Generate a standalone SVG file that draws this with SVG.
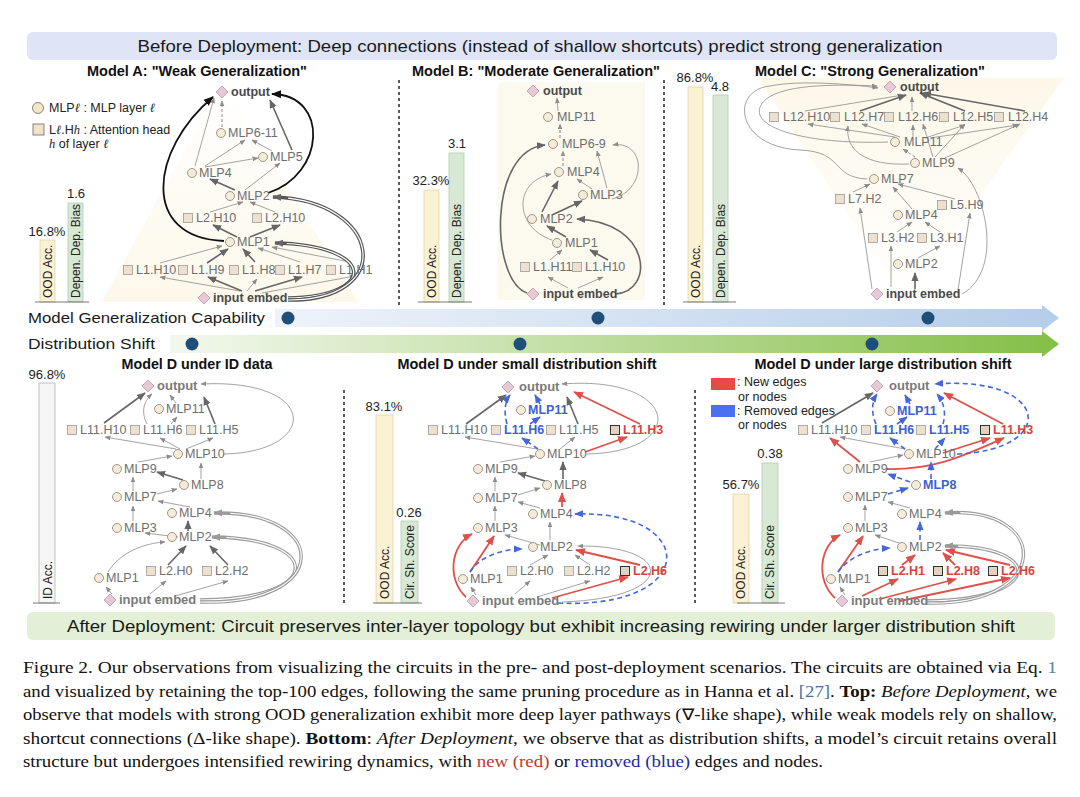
<svg xmlns="http://www.w3.org/2000/svg" width="1080" height="797" viewBox="0 0 1080 797">
<defs>
<style>
text{font-family:"Liberation Sans",Arial,sans-serif}
.t{font-size:12.5px;fill:#6e6e6e}
.tb{font-size:12.5px;font-weight:bold;fill:#4a4a4a}
.tg{font-size:13px;font-weight:bold;fill:#7a7a7a}
.tr{font-size:12.5px;font-weight:bold;fill:#d9433d}
.tbl{font-size:12.5px;font-weight:bold;fill:#3d5fd6}
.ttl{font-size:14px;font-weight:bold;fill:#111;text-anchor:middle}
.c{fill:#f4ebd9;stroke:#8a7f74;stroke-width:0.8}
.s{fill:#eee0cf;stroke:#9b9b9b;stroke-width:0.8}
.s2{fill:#e3d2bf;stroke:#333;stroke-width:1}
.d{fill:#e8c8d6;stroke:#b49aa8;stroke-width:0.8}
.e{fill:none;stroke:#8c8c8c;stroke-width:0.8;marker-end:url(#mg)}
.eb{fill:none;stroke:#666;stroke-width:1.6;marker-end:url(#mgb)}
.ed{fill:none;stroke:#8c8c8c;stroke-width:1;stroke-dasharray:3 2;marker-end:url(#mg)}
.k{fill:none;stroke:#111;stroke-width:1.8;marker-end:url(#mk)}
.r{fill:none;stroke:#e0504a;stroke-width:1.8;marker-end:url(#mr)}
.b{fill:none;stroke:#4466dd;stroke-width:1.6;stroke-dasharray:5 3.5;marker-end:url(#mb)}
.dbo{fill:none;stroke:#9a9a9a;stroke-width:3.4;marker-end:url(#mgl)}
.dbk{fill:none;stroke:#555;stroke-width:3.6;marker-end:url(#mgb)}
.dbi{fill:none;stroke:#fff;stroke-width:1.2;stroke-dasharray:93 100}
.bl{font-size:13px;fill:#222;text-anchor:middle}
.bv{font-size:12px;fill:#222}
.oa{fill:#fbf1d4;stroke:#e3d4a6;stroke-width:0.8}
.gb{fill:#d7e8d4;stroke:#b3cab0;stroke-width:0.8}
.ia{fill:#f6f6f6;stroke:#b5b5b5;stroke-width:0.8}
.sep{stroke:#222;stroke-width:1.5;stroke-dasharray:3 3}
.base{stroke:#555;stroke-width:0.8}
.cap{font-family:"Liberation Serif","Times New Roman",serif;font-size:16px;fill:#111}
.ban{font-size:17px;fill:#1a1a1a;text-anchor:middle}
.mid{font-size:15px;fill:#1a1a1a}
.dot1{fill:#1f4e79}
.lg{font-size:12.5px;fill:#222}
</style>
<marker id="mg" viewBox="0 0 10 10" refX="9" refY="5" markerWidth="6" markerHeight="6" markerUnits="userSpaceOnUse" orient="auto"><path d="M0,1 L10,5 L0,9 z" fill="#8c8c8c"/></marker>
<marker id="mgl" viewBox="0 0 10 10" refX="9" refY="5" markerWidth="9" markerHeight="9" markerUnits="userSpaceOnUse" orient="auto"><path d="M0,1 L10,5 L0,9 z" fill="#9a9a9a"/></marker>
<marker id="mgb" viewBox="0 0 10 10" refX="9" refY="5" markerWidth="9" markerHeight="9" markerUnits="userSpaceOnUse" orient="auto"><path d="M0,1 L10,5 L0,9 z" fill="#666"/></marker>
<marker id="mk" viewBox="0 0 10 10" refX="9" refY="5" markerWidth="10" markerHeight="10" markerUnits="userSpaceOnUse" orient="auto"><path d="M0,1 L10,5 L0,9 z" fill="#111"/></marker>
<marker id="mr" viewBox="0 0 10 10" refX="9" refY="5" markerWidth="10" markerHeight="10" markerUnits="userSpaceOnUse" orient="auto"><path d="M0,1 L10,5 L0,9 z" fill="#e0504a"/></marker>
<marker id="mb" viewBox="0 0 10 10" refX="9" refY="5" markerWidth="9" markerHeight="9" markerUnits="userSpaceOnUse" orient="auto"><path d="M0,1 L10,5 L0,9 z" fill="#4466dd"/></marker>
<linearGradient id="gA" x1="0" y1="0" x2="0" y2="1"><stop offset="0" stop-color="#fbf3dc" stop-opacity="0"/><stop offset="1" stop-color="#fbf3dc" stop-opacity="0.6"/></linearGradient>
<linearGradient id="gC" x1="0" y1="0" x2="0" y2="1"><stop offset="0" stop-color="#fbf3dc" stop-opacity="0.65"/><stop offset="1" stop-color="#fbf3dc" stop-opacity="0"/></linearGradient>
<linearGradient id="gBlue" x1="0" y1="0" x2="1" y2="0"><stop offset="0" stop-color="#eef3fa"/><stop offset="1" stop-color="#b4cde9"/></linearGradient>
<linearGradient id="gGreen" x1="0" y1="0" x2="1" y2="0"><stop offset="0" stop-color="#f3f8ee"/><stop offset="1" stop-color="#84bf47"/></linearGradient>
</defs>
<rect width="1080" height="797" fill="#fff"/>

<!-- banners -->
<g id="banner-top"><rect x="27" y="32" width="1030" height="28" rx="6" fill="#dfe5f6"/><text class="ban" x="540" y="52" textLength="805" lengthAdjust="spacingAndGlyphs">Before Deployment: Deep connections (instead of shallow shortcuts) predict strong generalization</text></g>
<g id="banner-bottom"><rect x="27" y="612" width="1028" height="28" rx="6" fill="#e3efd6"/><text class="ban" x="541" y="632" textLength="948" lengthAdjust="spacingAndGlyphs">After Deployment: Circuit preserves inter-layer topology but exhibit increasing rewiring under larger distribution shift</text></g>

<!-- backgrounds -->
<polygon points="222,80 358,302 102,302" fill="url(#gA)"/>
<rect x="498" y="82" width="147" height="218" fill="#fcf9ef"/>
<polygon points="758,78 1064,78 905,302" fill="url(#gC)"/>

<!-- separators -->
<g id="separators">
<line class="sep" x1="399" y1="80" x2="399" y2="305"/>
<line class="sep" x1="664" y1="80" x2="664" y2="305"/>
<line class="sep" x1="344" y1="390" x2="344" y2="605"/>
<line class="sep" x1="695" y1="390" x2="695" y2="605"/>
</g>

<!-- titles -->
<g id="titles">
<text class="ttl" x="197" y="76" textLength="220" lengthAdjust="spacingAndGlyphs">Model A: "Weak Generalization"</text>
<text class="ttl" x="536" y="76" textLength="248" lengthAdjust="spacingAndGlyphs">Model B: "Moderate Generalization"</text>
<text class="ttl" x="870" y="76" textLength="230" lengthAdjust="spacingAndGlyphs">Model C: "Strong Generalization"</text>
<text class="ttl" x="197" y="369" textLength="151" lengthAdjust="spacingAndGlyphs">Model D under ID data</text>
<text class="ttl" x="527" y="369" textLength="259" lengthAdjust="spacingAndGlyphs">Model D under small distribution shift</text>
<text class="ttl" x="883" y="369" textLength="257" lengthAdjust="spacingAndGlyphs">Model D under large distribution shift</text>
</g>

<!-- legend A -->
<g id="legend-a">
<circle cx="38" cy="108" r="5.5" fill="#f5e6c8" stroke="#777" stroke-width="0.9"/>
<text class="lg" x="49" y="112" font-size="11.5">MLP<tspan font-style="italic" font-family="Liberation Serif">ℓ</tspan> : MLP layer <tspan font-style="italic" font-family="Liberation Serif">ℓ</tspan></text>
<rect x="33" y="124" width="11" height="11" fill="#f5e0c8" stroke="#777" stroke-width="0.9"/>
<text class="lg" x="49" y="134" font-size="11.5">L<tspan font-style="italic" font-family="Liberation Serif">ℓ</tspan>.H<tspan font-style="italic" font-family="Liberation Serif">h</tspan> : Attention head</text>
<text class="lg" x="49" y="148" font-size="11.5"><tspan font-style="italic" font-family="Liberation Serif">h</tspan> of layer <tspan font-style="italic" font-family="Liberation Serif">ℓ</tspan></text>
</g>

<!-- legend D large -->
<g id="legend-d">
<rect x="711" y="378" width="24" height="12" fill="#e84a45"/>
<text class="lg" x="737" y="386">: New edges</text>
<text class="lg" x="738" y="401">or nodes</text>
<rect x="711" y="405" width="24" height="12" fill="#4a6ff0"/>
<text class="lg" x="737" y="415">: Removed edges</text>
<text class="lg" x="738" y="429">or nodes</text>
</g>

<!-- bars -->
<g id="bars-a">
<rect class="oa" x="40" y="240" width="15" height="62"/><rect class="gb" x="68" y="203" width="15" height="99"/>
<line class="base" x1="35" y1="302" x2="89" y2="302"/>
<text class="bl" x="47" y="236">16.8%</text><text class="bl" x="76" y="198">1.6</text>
<text class="bv" transform="translate(52,298) rotate(-90)">OOD Acc.</text>
<text class="bv" transform="translate(80,298) rotate(-90)">Depen. Dep. Bias</text>
</g>
<g id="bars-b">
<rect class="oa" x="424" y="190" width="15" height="112"/><rect class="gb" x="449" y="153" width="15" height="149"/>
<line class="base" x1="418" y1="302" x2="472" y2="302"/>
<text class="bl" x="431" y="185">32.3%</text><text class="bl" x="457" y="148">3.1</text>
<text class="bv" transform="translate(436,298) rotate(-90)">OOD Acc.</text>
<text class="bv" transform="translate(461,298) rotate(-90)">Depen. Dep. Bias</text>
</g>
<g id="bars-c">
<rect class="oa" x="688" y="87" width="15" height="215"/><rect class="gb" x="713" y="95" width="15" height="207"/>
<line class="base" x1="683" y1="302" x2="736" y2="302"/>
<text class="bl" x="695" y="82">86.8%</text><text class="bl" x="720" y="91">4.8</text>
<text class="bv" transform="translate(700,298) rotate(-90)">OOD Acc.</text>
<text class="bv" transform="translate(725,298) rotate(-90)">Depen. Dep. Bias</text>
</g>
<g id="bars-d-id">
<rect class="ia" x="39" y="383" width="16" height="220"/>
<line class="base" x1="33" y1="603" x2="60" y2="603"/>
<text class="bl" x="47" y="379">96.8%</text>
<text class="bv" transform="translate(52,599) rotate(-90)">ID Acc.</text>
</g>
<g id="bars-d-small">
<rect class="oa" x="376" y="415" width="17" height="188"/><rect class="gb" x="401" y="521" width="17" height="82"/>
<line class="base" x1="373" y1="603" x2="422" y2="603"/>
<text class="bl" x="384" y="411">83.1%</text><text class="bl" x="409" y="517">0.26</text>
<text class="bv" transform="translate(389,599) rotate(-90)">OOD Acc.</text>
<text class="bv" transform="translate(414,599) rotate(-90)">Cir. Sh. Score</text>
</g>
<g id="bars-d-large">
<rect class="oa" x="733" y="494" width="16" height="109"/><rect class="gb" x="762" y="463" width="16" height="140"/>
<line class="base" x1="737" y1="603" x2="785" y2="603"/>
<text class="bl" x="741" y="489">56.7%</text><text class="bl" x="770" y="458">0.38</text>
<text class="bv" transform="translate(745,599) rotate(-90)">OOD Acc.</text>
<text class="bv" transform="translate(774,599) rotate(-90)">Cir. Sh. Score</text>
</g>

<!-- middle axis arrows -->
<g id="axis-generalization">
<text class="mid" x="28" y="323" textLength="237" lengthAdjust="spacingAndGlyphs">Model Generalization Capability</text>
<polygon points="275,309 1042,309 1042,305 1059,318 1042,331 1042,327 275,327" fill="url(#gBlue)"/>
<circle class="dot1" cx="288" cy="318" r="6.5"/><circle class="dot1" cx="598" cy="318" r="6.5"/><circle class="dot1" cx="928" cy="318" r="6.5"/>
</g>
<g id="axis-shift">
<text class="mid" x="28" y="349" textLength="127" lengthAdjust="spacingAndGlyphs">Distribution Shift</text>
<polygon points="170,335 1042,335 1042,331 1059,344 1042,357 1042,353 170,353" fill="url(#gGreen)"/>
<circle class="dot1" cx="192" cy="344" r="6.5"/><circle class="dot1" cx="520" cy="344" r="6.5"/><circle class="dot1" cx="872" cy="344" r="6.5"/>
</g>

<!-- connectors -->
<g id="connectors">
<!-- Model A -->
<path class="e" d="M240,291 L160,277"/>
<path class="eb" d="M242,291 L208,277"/>
<path class="e" d="M247,291 L257,279"/>
<path class="eb" d="M255,291 L302,277"/>
<path class="e" d="M262,293 L355,276"/>
<path class="e" d="M160,263 L222,246"/>
<path class="eb" d="M207,263 L228,249"/>
<path class="eb" d="M255,262 L243,249"/>
<path class="e" d="M300,262 L258,248"/>
<path class="e" d="M350,262 L272,247"/>
<path class="eb" d="M237,237 L213,225"/>
<path class="eb" d="M250,237 L280,225"/>
<path class="e" d="M210,212 L243,202"/>
<path class="e" d="M275,212 L250,202"/>
<path class="eb" d="M235,190 L210,179"/>
<path class="e" d="M245,190 L280,163"/>
<path class="e" d="M205,167 L258,158"/>
<path class="e" d="M205,166 L245,140"/>
<path class="e" d="M272,151 L252,140"/>
<path class="e" d="M195,166 L214,98"/>
<path class="eb" d="M292,150 L270,100"/>
<path class="ed" d="M222,127 L222,101"/>
<path class="k" d="M224,241 C140,238 150,150 213,97"/>
<path class="k" d="M268,193 C325,175 330,95 272,94"/>
<path class="dbk" d="M288,298 C380,296 375,245 275,243"/>
<path class="dbi" pathLength="100" d="M288,298 C380,296 375,245 275,243"/>
<path class="dbk" d="M288,300 C398,301 382,200 273,197"/>
<path class="dbi" pathLength="100" d="M288,300 C398,301 382,200 273,197"/>
<!-- Model B -->
<path class="e" d="M568,288 L548,277"/>
<path class="e" d="M578,288 L603,277"/>
<path class="e" d="M550,260 L562,250"/>
<path class="eb" d="M608,260 L590,250"/>
<path class="eb" d="M566,237 L547,226"/>
<path class="e" d="M552,240 C515,228 512,182 551,174"/>
<path class="eb" d="M542,212 L558,181"/>
<path class="eb" d="M552,215 L582,201"/>
<path class="e" d="M592,189 L577,179"/>
<path class="e" d="M607,188 L597,151"/>
<path class="e" d="M612,199 C648,190 646,140 613,145"/>
<path class="ed" d="M563,166 L563,151"/>
<path class="ed" d="M560,138 L560,124"/>
<path class="e" d="M558,111 L557,98"/>
<path class="eb" stroke-width="2" d="M527,293 C490,280 488,150 545,145"/>
<path class="eb" stroke-width="2" d="M615,294 C655,292 652,222 577,219"/>
<!-- Model C -->
<path class="eb" stroke-width="2.4" d="M915,289 L915,273"/>
<path class="e" d="M891,287 L891,246"/>
<path class="e" d="M918,258 L940,246"/>
<path class="e" d="M897,232 L912,222"/>
<path class="e" d="M940,232 L925,222"/>
<path class="e" d="M912,209 L893,187"/>
<path class="e" d="M955,199 L898,184"/>
<path class="e" d="M853,192 L870,184"/>
<path class="e" d="M872,289 L860,208"/>
<path class="e" d="M958,290 L970,213"/>
<path class="e" d="M962,294 C1005,270 985,185 958,168"/>
<path class="ed" d="M915,157 L903,149"/>
<path class="e" d="M935,157 L965,124"/>
<path class="e" d="M945,158 L1020,124"/>
<path class="e" d="M933,157 L923,124"/>
<path class="e" d="M909,164 C865,166 845,150 848,126"/>
<path class="e" d="M895,137 L808,124"/>
<path class="e" d="M900,137 L862,124"/>
<path class="e" d="M913,137 L913,125"/>
<path class="e" d="M925,138 L965,125"/>
<path class="e" d="M930,138 L1018,125"/>
<path class="e" d="M805,111 L903,95"/>
<path class="eb" d="M860,111 L906,95"/>
<path class="e" d="M912,111 L912,97"/>
<path class="eb" stroke-width="3" d="M965,111 L920,93"/>
<path class="eb" stroke-width="1.1" d="M1025,111 L923,93"/>
<path class="e" d="M888,142 C800,145 740,125 765,100 C785,82 850,85 877,86"/>
<path class="e" d="M867,179 C830,177 845,152 800,150 C735,147 730,90 770,86 C800,80 850,84 878,88"/>
<!-- Model D ID -->
<path class="e" d="M112,594 L106,587"/>
<path class="e" d="M150,594 L166,581"/>
<path class="e" d="M175,596 L228,581"/>
<path class="e" d="M108,572 C120,552 145,543 165,542"/>
<path class="eb" d="M168,565 L186,546"/>
<path class="eb" d="M228,565 L210,546"/>
<path class="dbo" d="M200,600 C325,600 325,538 212,537"/>
<path class="dbi" pathLength="100" d="M200,600 C325,600 325,538 212,537"/>
<path class="dbo" d="M200,602 C335,606 330,510 214,513"/>
<path class="dbi" pathLength="100" d="M200,602 C335,606 330,510 214,513"/>
<path class="eb" d="M188,531 L188,521"/>
<path class="e" d="M178,537 L145,533"/>
<path class="e" d="M133,521 L133,506"/>
<path class="e" d="M190,507 L158,501"/>
<path class="e" d="M157,494 L177,489"/>
<path class="eb" d="M183,480 L157,472"/>
<path class="e" d="M133,491 L133,477"/>
<path class="e" d="M138,462 L172,456"/>
<path class="e" d="M201,479 L201,463"/>
<path class="e" d="M176,449 L105,437"/>
<path class="e" d="M180,449 L160,438"/>
<path class="e" d="M186,449 L213,438"/>
<path class="e" d="M224,454 C320,452 320,378 201,384"/>
<path class="eb" d="M104,423 L145,393"/>
<path class="e" d="M147,424 C140,410 145,400 152,394"/>
<path class="e" d="M171,424 L177,417"/>
<path class="e" d="M176,403 L170,395"/>
<path class="eb" d="M215,424 L204,397"/>
<!-- Model D small -->
<path class="e" d="M476,595 L471,587"/>
<path class="e" d="M515,594 L530,581"/>
<path class="e" d="M537,597 L590,581"/>
<path class="e" d="M530,565 L548,555"/>
<path class="e" d="M590,565 L575,555"/>
<path class="e" stroke="#9a9a9a" stroke-width="1.5" d="M562,602 C680,598 675,545 578,546"/>
<path class="e" d="M550,540 L550,522"/>
<path class="e" d="M540,545 L505,535"/>
<path class="e" d="M495,521 L495,506"/>
<path class="e" d="M540,508 L518,502"/>
<path class="e" d="M518,495 L540,488"/>
<path class="eb" d="M545,481 L518,473"/>
<path class="e" d="M495,491 L495,477"/>
<path class="e" d="M500,462 L535,456"/>
<path class="eb" d="M563,479 L563,462"/>
<path class="e" d="M537,449 L465,437"/>
<path class="e" d="M560,449 L575,437"/>
<path class="e" d="M587,454 C690,452 680,375 562,384"/>
<path class="eb" d="M466,424 L506,395"/>
<path class="eb" d="M578,424 L567,397"/>
<path class="r" d="M552,598 L628,577"/>
<path class="r" d="M640,565 L576,550"/>
<path class="r" d="M470,572 L494,536"/>
<path class="r" d="M466,597 C447,580 450,545 472,534"/>
<path class="r" d="M562,507 L562,493"/>
<path class="r" d="M585,452 L627,437"/>
<path class="r" d="M640,424 L574,392"/>
<path class="b" d="M470,572 C480,556 503,549 522,549"/>
<path class="b" d="M558,603 C700,610 700,510 575,514"/>
<path class="b" d="M538,449 L522,438"/>
<path class="b" d="M507,424 C503,410 506,400 510,395"/>
<path class="b" d="M530,424 L540,417"/>
<path class="b" d="M540,404 L535,395"/>
<!-- Model D large -->
<path class="e" d="M845,595 L840,587"/>
<path class="e" d="M905,545 L875,535"/>
<path class="e" d="M865,521 L865,505"/>
<path class="e" d="M910,508 L888,502"/>
<path class="dbo" d="M927,601 C1045,600 1045,545 945,546"/>
<path class="dbi" pathLength="100" d="M927,601 C1045,600 1045,545 945,546"/>
<path class="dbo" d="M927,603 C1055,606 1050,505 945,513"/>
<path class="dbi" pathLength="100" d="M927,603 C1055,606 1050,505 945,513"/>
<path class="e" d="M870,462 L903,455"/>
<path class="e" d="M905,449 L840,437"/>
<path class="eb" d="M822,423 L873,393"/>
<path class="r" d="M862,596 L898,579"/>
<path class="r" d="M880,599 L956,579"/>
<path class="r" d="M900,601 L1010,578"/>
<path class="r" d="M902,565 L915,555"/>
<path class="r" d="M955,565 L943,553"/>
<path class="r" d="M1010,565 L946,550"/>
<path class="r" d="M838,572 L863,536"/>
<path class="r" d="M835,598 C815,580 820,545 840,535"/>
<path class="r" d="M860,462 L830,438"/>
<path class="r" d="M887,469 C935,470 965,455 1004,438"/>
<path class="r" d="M943,453 L990,438"/>
<path class="r" d="M1003,424 L944,393"/>
<path class="b" d="M838,572 C850,556 870,549 890,548"/>
<path class="b" d="M920,540 L920,522"/>
<path class="b" d="M888,494 L908,488"/>
<path class="b" d="M910,482 L888,474"/>
<path class="b" d="M931,479 L931,462"/>
<path class="b" d="M905,449 L890,438"/>
<path class="b" d="M935,449 L945,438"/>
<path class="b" d="M876,424 C870,410 873,400 877,394"/>
<path class="b" d="M943,424 C947,410 942,400 937,394"/>
<path class="b" d="M897,424 L907,417"/>
<path class="b" d="M910,404 L905,395"/>
<path class="b" d="M957,454 C1060,450 1050,375 935,384"/>
</g>

<!-- Model A nodes -->
<g id="a-out"><path class="d" d="M222,86 L228,92 L222,98 L216,92 Z"/><text class="tb" x="231" y="96">output</text></g>
<g id="a-mlp6-11"><circle class="c" cx="221" cy="133" r="4.5"/><text class="t" x="228" y="137">MLP6-11</text></g>
<g id="a-mlp5"><circle class="c" cx="263" cy="157" r="4.5"/><text class="t" x="270" y="161">MLP5</text></g>
<g id="a-mlp4"><circle class="c" cx="192" cy="173" r="4.5"/><text class="t" x="199" y="177">MLP4</text></g>
<g id="a-mlp2"><circle class="c" cx="230" cy="196" r="4.5"/><text class="t" x="237" y="200">MLP2</text></g>
<g id="a-l2h10a"><rect class="s" x="183.5" y="213.5" width="9" height="9"/><text class="t" x="196" y="222">L2.H10</text></g>
<g id="a-l2h10b"><rect class="s" x="252.5" y="213.5" width="9" height="9"/><text class="t" x="265" y="222">L2.H10</text></g>
<g id="a-mlp1"><circle class="c" cx="230" cy="242" r="4.5"/><text class="t" x="237" y="246">MLP1</text></g>
<g id="a-l1h10"><rect class="s" x="123.5" y="265.5" width="9" height="9"/><text class="t" x="136" y="274">L1.H10</text></g>
<g id="a-l1h9"><rect class="s" x="178.5" y="265.5" width="9" height="9"/><text class="t" x="191" y="274">L1.H9</text></g>
<g id="a-l1h8"><rect class="s" x="229.5" y="265.5" width="9" height="9"/><text class="t" x="242" y="274">L1.H8</text></g>
<g id="a-l1h7"><rect class="s" x="275.5" y="265.5" width="9" height="9"/><text class="t" x="288" y="274">L1.H7</text></g>
<g id="a-l1h1"><rect class="s" x="326.5" y="265.5" width="9" height="9"/><text class="t" x="339" y="274">L1.H1</text></g>
<g id="a-in"><path class="d" d="M204,292 L210,298 L204,304 L198,298 Z"/><text class="tb" x="213" y="302">input embed</text></g>

<!-- Model B nodes -->
<g id="b-out"><path class="d" d="M533,85 L539,91 L533,97 L527,91 Z"/><text class="tb" x="543" y="95">output</text></g>
<g id="b-mlp11"><circle class="c" cx="548" cy="117" r="4.5"/><text class="t" x="557" y="121">MLP11</text></g>
<g id="b-mlp6-9"><circle class="c" cx="553" cy="144" r="4.5"/><text class="t" x="562" y="148">MLP6-9</text></g>
<g id="b-mlp4"><circle class="c" cx="559" cy="172" r="4.5"/><text class="t" x="567" y="176">MLP4</text></g>
<g id="b-mlp3"><circle class="c" cx="583" cy="195" r="4.5"/><text class="t" x="590" y="199">MLP3</text></g>
<g id="b-mlp2"><circle class="c" cx="532" cy="219" r="4.5"/><text class="t" x="540" y="223">MLP2</text></g>
<g id="b-mlp1"><circle class="c" cx="557" cy="243" r="4.5"/><text class="t" x="565" y="247">MLP1</text></g>
<g id="b-l1h11"><rect class="s" x="520.5" y="262.5" width="9" height="9"/><text class="t" x="533" y="271">L1.H11</text></g>
<g id="b-l1h10"><rect class="s" x="572.5" y="262.5" width="9" height="9"/><text class="t" x="585" y="271">L1.H10</text></g>
<g id="b-in"><path class="d" d="M533,288 L539,294 L533,300 L527,294 Z"/><text class="tb" x="543" y="298">input embed</text></g>

<!-- Model C nodes -->
<g id="c-out"><path class="d" d="M890,81 L896,87 L890,93 L884,87 Z"/><text class="tb" x="900" y="91">output</text></g>
<g id="c-l12h10"><rect class="s" x="769.5" y="112.5" width="9" height="9" stroke="#444"/><text class="t" x="783" y="121">L12.H10</text></g>
<g id="c-l12h7"><rect class="s" x="830.5" y="112.5" width="9" height="9"/><text class="t" x="844" y="121">L12.H7</text></g>
<g id="c-l12h6"><rect class="s" x="884.5" y="112.5" width="9" height="9"/><text class="t" x="898" y="121">L12.H6</text></g>
<g id="c-l12h5"><rect class="s" x="939.5" y="112.5" width="9" height="9"/><text class="t" x="953" y="121">L12.H5</text></g>
<g id="c-l12h4"><rect class="s" x="994.5" y="112.5" width="9" height="9"/><text class="t" x="1008" y="121">L12.H4</text></g>
<g id="c-mlp11"><circle class="c" cx="895" cy="142" r="4.5"/><text class="t" x="904" y="146">MLP11</text></g>
<g id="c-mlp9"><circle class="c" cx="915" cy="163" r="4.5"/><text class="t" x="922" y="167">MLP9</text></g>
<g id="c-mlp7"><circle class="c" cx="874" cy="179" r="4.5"/><text class="t" x="881" y="183">MLP7</text></g>
<g id="c-l7h2"><rect class="s" x="835.5" y="194.5" width="9" height="9"/><text class="t" x="848" y="203">L7.H2</text></g>
<g id="c-l5h9"><rect class="s" x="937.5" y="200.5" width="9" height="9"/><text class="t" x="950" y="209">L5.H9</text></g>
<g id="c-mlp4"><circle class="c" cx="898" cy="215" r="4.5"/><text class="t" x="905" y="219">MLP4</text></g>
<g id="c-l3h2"><rect class="s" x="868.5" y="233.5" width="9" height="9"/><text class="t" x="881" y="242">L3.H2</text></g>
<g id="c-l3h1"><rect class="s" x="917.5" y="233.5" width="9" height="9"/><text class="t" x="930" y="242">L3.H1</text></g>
<g id="c-mlp2"><circle class="c" cx="898" cy="264" r="4.5"/><text class="t" x="905" y="268">MLP2</text></g>
<g id="c-in"><path class="d" d="M877,288 L883,294 L877,300 L871,294 Z"/><text class="tb" x="886" y="298">input embed</text></g>

<!-- Model D ID nodes -->
<g id="di-out"><path class="d" d="M148,380 L154,386 L148,392 L142,386 Z"/><text class="tg" x="157" y="390">output</text></g>
<g id="di-mlp11"><circle class="c" cx="159" cy="409" r="4.5"/><text class="t" x="166" y="413">MLP11</text></g>
<g id="di-l11h10"><rect class="s" x="67.5" y="425.5" width="9" height="9"/><text class="t" x="80" y="434">L11.H10</text></g>
<g id="di-l11h6"><rect class="s" x="130.5" y="425.5" width="9" height="9"/><text class="t" x="143" y="434">L11.H6</text></g>
<g id="di-l11h5"><rect class="s" x="186.5" y="425.5" width="9" height="9"/><text class="t" x="199" y="434">L11.H5</text></g>
<g id="di-mlp10"><circle class="c" cx="178" cy="454" r="4.5"/><text class="t" x="185" y="458">MLP10</text></g>
<g id="di-mlp9"><circle class="c" cx="117" cy="469" r="4.5"/><text class="t" x="124" y="473">MLP9</text></g>
<g id="di-mlp8"><circle class="c" cx="184" cy="485" r="4.5"/><text class="t" x="191" y="489">MLP8</text></g>
<g id="di-mlp7"><circle class="c" cx="117" cy="497" r="4.5"/><text class="t" x="124" y="501">MLP7</text></g>
<g id="di-mlp4"><circle class="c" cx="172" cy="513" r="4.5"/><text class="t" x="179" y="517">MLP4</text></g>
<g id="di-mlp3"><circle class="c" cx="117" cy="528" r="4.5"/><text class="t" x="124" y="532">MLP3</text></g>
<g id="di-mlp2"><circle class="c" cx="172" cy="537" r="4.5"/><text class="t" x="179" y="541">MLP2</text></g>
<g id="di-mlp1"><circle class="c" cx="99" cy="578" r="4.5"/><text class="t" x="106" y="582">MLP1</text></g>
<g id="di-l2h0"><rect class="s" x="146.5" y="566.5" width="9" height="9"/><text class="t" x="159" y="575">L2.H0</text></g>
<g id="di-l2h2"><rect class="s" x="202.5" y="566.5" width="9" height="9"/><text class="t" x="215" y="575">L2.H2</text></g>
<g id="di-in"><path class="d" d="M110,594 L116,600 L110,606 L104,600 Z"/><text class="tg" x="119" y="604">input embed</text></g>

<!-- Model D small nodes -->
<g id="ds-out"><path class="d" d="M508,381 L514,387 L508,393 L502,387 Z"/><text class="tg" x="519" y="391">output</text></g>
<g id="ds-mlp11"><circle class="c" cx="521" cy="410" r="4.5"/><text class="tbl" x="528" y="414">MLP11</text></g>
<g id="ds-l11h10"><rect class="s" x="428.5" y="425.5" width="9" height="9"/><text class="t" x="441" y="434">L11.H10</text></g>
<g id="ds-l11h6"><rect class="s" x="491.5" y="425.5" width="9" height="9"/><text class="tbl" x="504" y="434">L11.H6</text></g>
<g id="ds-l11h5"><rect class="s" x="546.5" y="425.5" width="9" height="9"/><text class="t" x="559" y="434">L11.H5</text></g>
<g id="ds-l11h3"><rect class="s2" x="610.5" y="425.5" width="9" height="9"/><text class="tr" x="623" y="434">L11.H3</text></g>
<g id="ds-mlp10"><circle class="c" cx="540" cy="454" r="4.5"/><text class="t" x="547" y="458">MLP10</text></g>
<g id="ds-mlp9"><circle class="c" cx="478" cy="469" r="4.5"/><text class="t" x="485" y="473">MLP9</text></g>
<g id="ds-mlp8"><circle class="c" cx="547" cy="485" r="4.5"/><text class="t" x="554" y="489">MLP8</text></g>
<g id="ds-mlp7"><circle class="c" cx="478" cy="498" r="4.5"/><text class="t" x="485" y="502">MLP7</text></g>
<g id="ds-mlp4"><circle class="c" cx="533" cy="514" r="4.5"/><text class="t" x="540" y="518">MLP4</text></g>
<g id="ds-mlp3"><circle class="c" cx="478" cy="528" r="4.5"/><text class="t" x="485" y="532">MLP3</text></g>
<g id="ds-mlp2"><circle class="c" cx="533" cy="547" r="4.5"/><text class="t" x="540" y="551">MLP2</text></g>
<g id="ds-mlp1"><circle class="c" cx="463" cy="579" r="4.5"/><text class="t" x="470" y="583">MLP1</text></g>
<g id="ds-l2h0"><rect class="s" x="507.5" y="566.5" width="9" height="9"/><text class="t" x="520" y="575">L2.H0</text></g>
<g id="ds-l2h2"><rect class="s" x="564.5" y="566.5" width="9" height="9"/><text class="t" x="577" y="575">L2.H2</text></g>
<g id="ds-l2h6"><rect class="s2" x="620.5" y="566.5" width="9" height="9"/><text class="tr" x="633" y="575">L2.H6</text></g>
<g id="ds-in"><path class="d" d="M473,595 L479,601 L473,607 L467,601 Z"/><text class="tg" x="482" y="605">input embed</text></g>

<!-- Model D large nodes -->
<g id="dl-out"><path class="d" d="M877,380 L883,386 L877,392 L871,386 Z"/><text class="tg" x="889" y="390">output</text></g>
<g id="dl-mlp11"><circle class="c" cx="890" cy="411" r="4.5"/><text class="tbl" x="897" y="415">MLP11</text></g>
<g id="dl-l11h10"><rect class="s" x="798.5" y="425.5" width="9" height="9"/><text class="t" x="811" y="434">L11.H10</text></g>
<g id="dl-l11h6"><rect class="s" x="861.5" y="425.5" width="9" height="9"/><text class="tbl" x="874" y="434">L11.H6</text></g>
<g id="dl-l11h5"><rect class="s" x="916.5" y="425.5" width="9" height="9"/><text class="tbl" x="929" y="434">L11.H5</text></g>
<g id="dl-l11h3"><rect class="s2" x="980.5" y="425.5" width="9" height="9"/><text class="tr" x="993" y="434">L11.H3</text></g>
<g id="dl-mlp10"><circle class="c" cx="909" cy="454" r="4.5"/><text class="t" x="916" y="458">MLP10</text></g>
<g id="dl-mlp9"><circle class="c" cx="848" cy="469" r="4.5"/><text class="t" x="855" y="473">MLP9</text></g>
<g id="dl-mlp8"><circle class="c" cx="916" cy="485" r="4.5"/><text class="tbl" x="923" y="489">MLP8</text></g>
<g id="dl-mlp7"><circle class="c" cx="848" cy="497" r="4.5"/><text class="t" x="855" y="501">MLP7</text></g>
<g id="dl-mlp4"><circle class="c" cx="902" cy="514" r="4.5"/><text class="t" x="909" y="518">MLP4</text></g>
<g id="dl-mlp3"><circle class="c" cx="848" cy="528" r="4.5"/><text class="t" x="855" y="532">MLP3</text></g>
<g id="dl-mlp2"><circle class="c" cx="902" cy="547" r="4.5"/><text class="t" x="909" y="551">MLP2</text></g>
<g id="dl-mlp1"><circle class="c" cx="831" cy="579" r="4.5"/><text class="t" x="838" y="583">MLP1</text></g>
<g id="dl-l2h1"><rect class="s2" x="878.5" y="566.5" width="9" height="9"/><text class="tr" x="891" y="575">L2.H1</text></g>
<g id="dl-l2h8"><rect class="s2" x="933.5" y="566.5" width="9" height="9"/><text class="tr" x="946" y="575">L2.H8</text></g>
<g id="dl-l2h6"><rect class="s2" x="988.5" y="566.5" width="9" height="9"/><text class="tr" x="1001" y="575">L2.H6</text></g>
<g id="dl-in"><path class="d" d="M842,595 L848,601 L842,607 L836,601 Z"/><text class="tg" x="851" y="605">input embed</text></g>

<!-- caption -->
<g id="caption">
<text class="cap" x="23" y="673" textLength="1034" lengthAdjust="spacingAndGlyphs">Figure 2.  Our observations from visualizing the circuits in the pre- and post-deployment scenarios.  The circuits are obtained via Eq. <tspan fill="#5b7fa6">1</tspan></text>
<text class="cap" x="23" y="697" textLength="1034" lengthAdjust="spacingAndGlyphs">and visualized by retaining the top-100 edges, following the same pruning procedure as in Hanna et al. <tspan fill="#4a6fa5">[27]</tspan>. <tspan font-weight="bold">Top:</tspan> <tspan font-style="italic">Before Deployment</tspan>, we</text>
<text class="cap" x="23" y="720" textLength="1034" lengthAdjust="spacingAndGlyphs">observe that models with strong OOD generalization exhibit more deep layer pathways (∇-like shape), while weak models rely on shallow,</text>
<text class="cap" x="23" y="744" textLength="1034" lengthAdjust="spacingAndGlyphs">shortcut connections (Δ-like shape). <tspan font-weight="bold">Bottom</tspan>: <tspan font-style="italic">After Deployment</tspan>, we observe that as distribution shifts, a model’s circuit retains overall</text>
<text class="cap" x="23" y="767" textLength="800" lengthAdjust="spacingAndGlyphs">structure but undergoes intensified rewiring dynamics, with <tspan fill="#c0392b">new (red)</tspan> or <tspan fill="#1c2aa0">removed (blue)</tspan> edges and nodes.</text>
</g>
</svg>
